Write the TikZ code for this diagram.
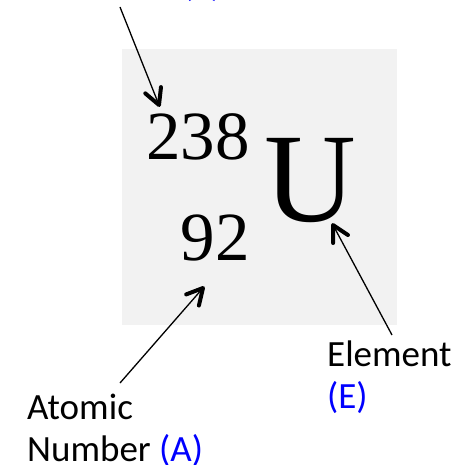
\documentclass[tikz,border=0pt]{standalone}
\usepackage{fontspec}
\setmainfont{Liberation Serif}
\newfontfamily\labelfont{Carlito}
\usetikzlibrary{calc,positioning}
\tikzset{
  card/.style={fill=black!5, minimum width=275pt, minimum height=276pt, inner sep=0pt},
  nuclide/.style={inner sep=0pt, font=\fontsize{69}{69}\selectfont},
  symbol/.style={inner sep=0pt, font=\fontsize{127}{127}\selectfont},
  label/.style={inner sep=0pt, align=left, font=\labelfont\fontsize{37}{42}\selectfont},
  shaft/.style={line width=1.3pt},
  barb/.style={line width=4pt, line cap=round, line join=round},
}
\newcommand{\lbltag}[1]{\textcolor{blue}{(#1)}}

\begin{document}
\begin{tikzpicture}[x=1pt, y=-1pt]
  \useasboundingbox (0,0) rectangle (465,465);
  \node[card] (card) at (259.5,187) {};
  % numbers and symbol
  \node[nuclide, anchor=base east] (mass) at (250,160) {238};
  \node[nuclide, anchor=base east] (atnum) at (250,260) {92};
  \node[symbol, anchor=base west] (elem) at (264,221) {U};
  % labels
  \node[label, anchor=south east] (masslbl) at (222,2) {Mass\\Number \lbltag{Z}};
  \node[label, anchor=south west] (atlbl) at (27,467) {Atomic\\Number \lbltag{A}};
  \node[label, anchor=south west] (elemlbl) at (327,414) {Element\\\lbltag{E}};
  % arrows
  \coordinate (massTail) at (120,7);
  \coordinate (massTip) at (159,105);
  \coordinate (atTail) at (120,383);
  \coordinate (atTip) at (203,288);
  \coordinate (elemTail) at (392,335);
  \coordinate (elemTip) at (333,225);
  \foreach \tail/\tip in {massTail/massTip, atTail/atTip, elemTail/elemTip}{
    \draw[shaft] (\tail) -- (\tip);
    \draw[barb] ($(\tip)!18pt!28:(\tail)$) -- (\tip) -- ($(\tip)!18pt!-28:(\tail)$);
  }
\end{tikzpicture}
\end{document}
